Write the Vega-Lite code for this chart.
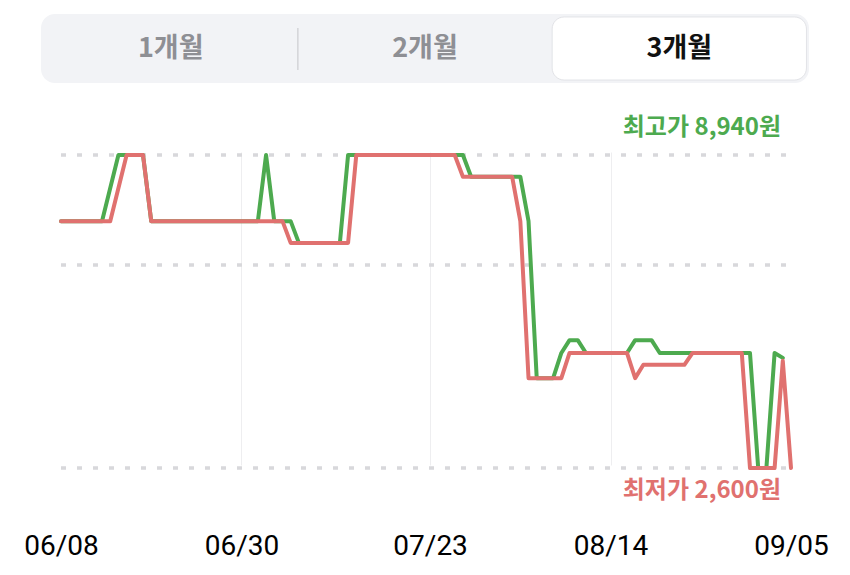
{
  "$schema": "https://vega.github.io/schema/vega-lite/v6.json",
  "autosize": {"type": "pad"},
  "padding": {"left": 23, "top": 14, "right": 0, "bottom": 0},
  "background": "white",
  "bounds": "flush",
  "spacing": 37,
  "config": {"view": {"stroke": null}, "font": "Noto Sans CJK KR"},
  "datasets": {
    "tabs": [
      {"tab": "1개월", "selected": false},
      {"tab": "2개월", "selected": false},
      {"tab": "3개월", "selected": true}
    ],
    "guides": [{"price": 8940}, {"price": 6710}, {"price": 2600}],
    "labels": [
      {"price": 8940, "series": "최고가", "text": "최고가 8,940원"},
      {"price": 2600, "series": "최저가", "text": "최저가 2,600원"}
    ],
    "prices": [
      {"date": "2025/06/08", "series": "최고가", "price": 7600},
      {"date": "2025/06/13", "series": "최고가", "price": 7600},
      {"date": "2025/06/15", "series": "최고가", "price": 8940},
      {"date": "2025/06/18", "series": "최고가", "price": 8940},
      {"date": "2025/06/19", "series": "최고가", "price": 7600},
      {"date": "2025/07/02", "series": "최고가", "price": 7600},
      {"date": "2025/07/03", "series": "최고가", "price": 8940},
      {"date": "2025/07/04", "series": "최고가", "price": 7600},
      {"date": "2025/07/06", "series": "최고가", "price": 7600},
      {"date": "2025/07/07", "series": "최고가", "price": 7160},
      {"date": "2025/07/12", "series": "최고가", "price": 7160},
      {"date": "2025/07/13", "series": "최고가", "price": 8940},
      {"date": "2025/07/27", "series": "최고가", "price": 8940},
      {"date": "2025/07/28", "series": "최고가", "price": 8500},
      {"date": "2025/08/03", "series": "최고가", "price": 8500},
      {"date": "2025/08/04", "series": "최고가", "price": 7600},
      {"date": "2025/08/05", "series": "최고가", "price": 4420},
      {"date": "2025/08/07", "series": "최고가", "price": 4420},
      {"date": "2025/08/08", "series": "최고가", "price": 4930},
      {"date": "2025/08/09", "series": "최고가", "price": 5190},
      {"date": "2025/08/10", "series": "최고가", "price": 5190},
      {"date": "2025/08/11", "series": "최고가", "price": 4930},
      {"date": "2025/08/16", "series": "최고가", "price": 4930},
      {"date": "2025/08/17", "series": "최고가", "price": 5190},
      {"date": "2025/08/19", "series": "최고가", "price": 5190},
      {"date": "2025/08/20", "series": "최고가", "price": 4930},
      {"date": "2025/08/31", "series": "최고가", "price": 4930},
      {"date": "2025/09/01", "series": "최고가", "price": 2600},
      {"date": "2025/09/02", "series": "최고가", "price": 2600},
      {"date": "2025/09/03", "series": "최고가", "price": 4930},
      {"date": "2025/09/04", "series": "최고가", "price": 4830},
      {"date": "2025/06/08", "series": "최저가", "price": 7600},
      {"date": "2025/06/14", "series": "최저가", "price": 7600},
      {"date": "2025/06/16", "series": "최저가", "price": 8940},
      {"date": "2025/06/18", "series": "최저가", "price": 8940},
      {"date": "2025/06/19", "series": "최저가", "price": 7600},
      {"date": "2025/07/05", "series": "최저가", "price": 7600},
      {"date": "2025/07/06", "series": "최저가", "price": 7160},
      {"date": "2025/07/13", "series": "최저가", "price": 7160},
      {"date": "2025/07/14", "series": "최저가", "price": 8940},
      {"date": "2025/07/26", "series": "최저가", "price": 8940},
      {"date": "2025/07/27", "series": "최저가", "price": 8500},
      {"date": "2025/08/02", "series": "최저가", "price": 8500},
      {"date": "2025/08/03", "series": "최저가", "price": 7600},
      {"date": "2025/08/04", "series": "최저가", "price": 4420},
      {"date": "2025/08/08", "series": "최저가", "price": 4420},
      {"date": "2025/08/09", "series": "최저가", "price": 4930},
      {"date": "2025/08/16", "series": "최저가", "price": 4930},
      {"date": "2025/08/17", "series": "최저가", "price": 4420},
      {"date": "2025/08/18", "series": "최저가", "price": 4690},
      {"date": "2025/08/23", "series": "최저가", "price": 4690},
      {"date": "2025/08/24", "series": "최저가", "price": 4930},
      {"date": "2025/08/30", "series": "최저가", "price": 4930},
      {"date": "2025/08/31", "series": "최저가", "price": 2600},
      {"date": "2025/09/03", "series": "최저가", "price": 2600},
      {"date": "2025/09/04", "series": "최저가", "price": 4770},
      {"date": "2025/09/05", "series": "최저가", "price": 2600}
    ]
  },
  "vconcat": [
    {
      "width": 768,
      "height": 69,
      "view": {"fill": "#F2F3F6", "cornerRadius": 14, "stroke": null},
      "data": {"name": "tabs"},
      "encoding": {
        "x": {"field": "tab", "type": "nominal", "scale": {"domain": ["1개월", "2개월", "3개월"], "paddingInner": 0, "paddingOuter": 0.01}, "axis": null, "title": null}
      },
      "layer": [
        {
          "transform": [{"filter": "datum.selected"}],
          "mark": {"type": "bar", "color": "#FFFFFF", "cornerRadius": 12, "stroke": "#E2E3E7", "strokeWidth": 1},
          "encoding": {
            "y": {"datum": 0.957, "type": "quantitative", "scale": {"domain": [0, 1], "nice": false, "zero": false}, "axis": null, "title": null},
            "y2": {"datum": 0.043}
          }
        },
        {
          "transform": [{"filter": "datum.tab === '2개월'"}],
          "mark": {"type": "rule", "color": "#D3D4D8", "strokeWidth": 1.5},
          "encoding": {
            "x": {"field": "tab", "type": "nominal", "bandPosition": 0, "title": null},
            "y": {"datum": 0.797, "type": "quantitative", "title": null},
            "y2": {"datum": 0.19}
          }
        },
        {
          "mark": {"type": "text", "fontSize": 27, "fontWeight": "bold", "baseline": "middle", "font": "Noto Sans CJK KR"},
          "encoding": {
            "y": {"datum": 0.5, "type": "quantitative", "title": null},
            "text": {"field": "tab"},
            "color": {"condition": {"test": "datum.selected", "value": "#111111"}, "value": "#8E8F94"}
          }
        }
      ]
    },
    {
      "width": 768,
      "height": 380,
      "layer": [
        {
          "data": {"name": "guides"},
          "mark": {"type": "rule", "color": "#D8D8DB", "strokeWidth": 3.5, "strokeDash": [5, 11]},
          "encoding": {
            "x": {
              "datum": {"year": 2025, "month": 6, "date": 8},
              "type": "temporal",
              "title": null,
              "scale": {"domain": [{"year": 2025, "month": 6, "date": 8}, {"year": 2025, "month": 9, "date": 5}], "range": [20, 750]},
              "axis": {
                "values": [
                  {"year": 2025, "month": 6, "date": 8},
                  {"year": 2025, "month": 6, "date": 30},
                  {"year": 2025, "month": 7, "date": 23},
                  {"year": 2025, "month": 8, "date": 14},
                  {"year": 2025, "month": 9, "date": 5}
                ],
                "format": "%m/%d",
                "title": null,
                "domain": false,
                "ticks": false,
                "grid": true,
                "gridColor": "#EEEEF0",
                "gridWidth": 1,
                "gridOpacity": {"condition": {"test": "month(datum.value) == 5 && date(datum.value) == 8 || month(datum.value) == 8 && date(datum.value) == 5", "value": 0}, "value": 1},
                "labelFont": "Roboto",
                "labelFontSize": 28,
                "labelColor": "#000000",
                "labelPadding": 32,
                "labelFlush": false,
                "labelOverlap": false
              }
            },
            "x2": {"datum": {"year": 2025, "month": 9, "date": 5}},
            "y": {
              "field": "price",
              "type": "quantitative",
              "title": null,
              "scale": {"domain": [2600, 8940], "range": [348, 35], "nice": false, "zero": false},
              "axis": null
            }
          }
        },
        {
          "data": {"name": "prices"},
          "transform": [{"filter": "datum.series === '최고가'"}],
          "mark": {"type": "line", "strokeWidth": 4, "strokeJoin": "round", "strokeCap": "round"},
          "encoding": {
            "x": {"field": "date", "type": "temporal", "title": null},
            "y": {"field": "price", "type": "quantitative", "title": null},
            "color": {"field": "series", "type": "nominal", "scale": {"domain": ["최고가", "최저가"], "range": ["#4DAA4F", "#E0716F"]}, "legend": null}
          }
        },
        {
          "data": {"name": "prices"},
          "transform": [{"filter": "datum.series === '최저가'"}],
          "mark": {"type": "line", "strokeWidth": 4, "strokeJoin": "round", "strokeCap": "round"},
          "encoding": {
            "x": {"field": "date", "type": "temporal", "title": null},
            "y": {"field": "price", "type": "quantitative", "title": null},
            "color": {"field": "series", "type": "nominal", "legend": null}
          }
        },
        {
          "data": {"name": "labels"},
          "transform": [{"filter": "datum.series === '최고가'"}],
          "mark": {"type": "text", "align": "right", "baseline": "middle", "dx": -10, "dy": -27, "fontSize": 24, "fontWeight": "bold", "font": "Noto Sans CJK KR"},
          "encoding": {
            "x": {"datum": {"year": 2025, "month": 9, "date": 5}, "type": "temporal", "title": null},
            "y": {"field": "price", "type": "quantitative", "title": null},
            "text": {"field": "text"},
            "color": {"field": "series", "type": "nominal", "legend": null}
          }
        },
        {
          "data": {"name": "labels"},
          "transform": [{"filter": "datum.series === '최저가'"}],
          "mark": {"type": "text", "align": "right", "baseline": "middle", "dx": -10, "dy": 23, "fontSize": 24, "fontWeight": "bold", "font": "Noto Sans CJK KR"},
          "encoding": {
            "x": {"datum": {"year": 2025, "month": 9, "date": 5}, "type": "temporal", "title": null},
            "y": {"field": "price", "type": "quantitative", "title": null},
            "text": {"field": "text"},
            "color": {"field": "series", "type": "nominal", "legend": null}
          }
        }
      ]
    }
  ]
}
